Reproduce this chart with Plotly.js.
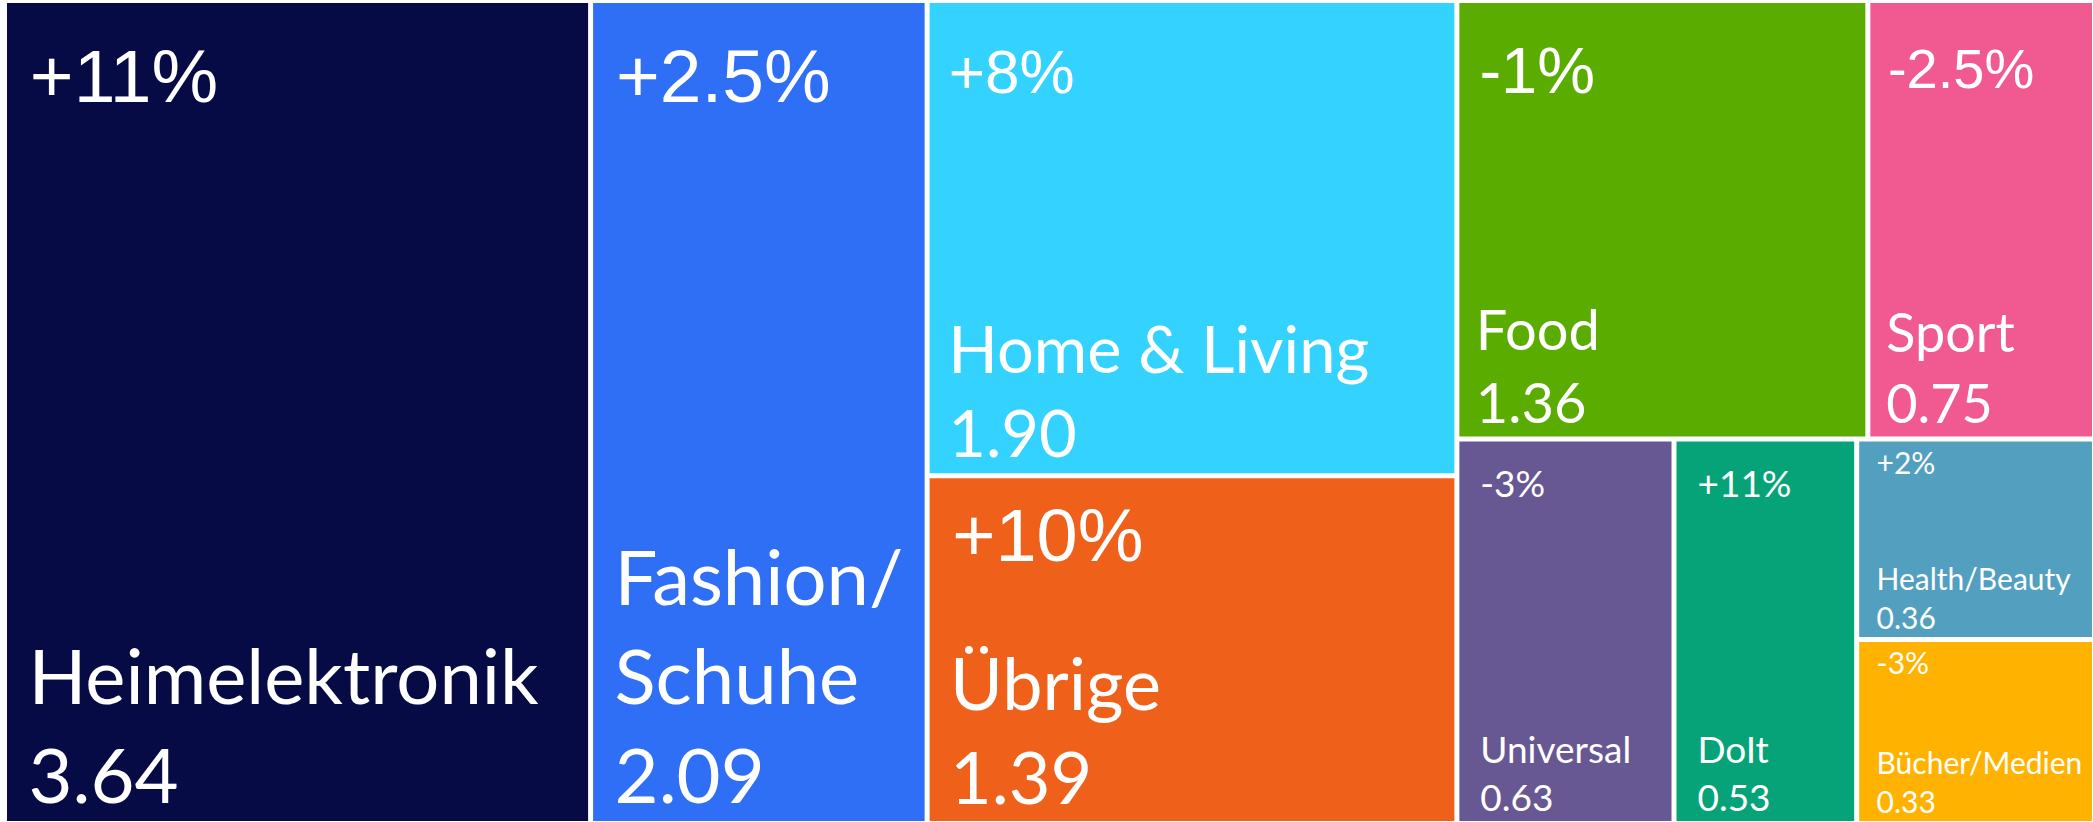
<!DOCTYPE html>
<html>
<head>
<meta charset="utf-8">
<script src="https://cdn.plot.ly/plotly-3.0.1.min.js"></script>
<style>
  html, body { margin: 0; padding: 0; background: #ffffff; }
</style>
</head>
<body>
<div id="myDiv_treemap"></div>
<script>
// ONLINE-UMSATZ NACH KATEGORIE

var labels_treemap = [
  "Heimelektronik",
  "Fashion/Schuhe",
  "Home & Living",
  "Übrige",
  "Food",
  "Sport",
  "Universal",
  "DoIt",
  "Health/Beauty",
  "Bücher/Medien",
];

var names_treemap = [
  "Heimelektronik",
  "Fashion/<br>Schuhe",
  "Home & Living",
  "Übrige",
  "Food",
  "Sport",
  "Universal",
  "DoIt",
  "Health/Beauty",
  "Bücher/Medien",
];

var values_treemap = [3.64, 2.09, 1.9, 1.39, 1.36, 0.75, 0.63, 0.53, 0.36, 0.33];

var change_treemap = [
  "+11%",
  "+2.5%",
  "+8%",
  "+10%",
  "-1%",
  "-2.5%",
  "-3%",
  "+11%",
  "+2%",
  "-3%",
];

var colors_treemap = [
  "#060b45",
  "#2e6ff5",
  "#33d2ff",
  "#ef601b",
  "#5aad00",
  "#f05a91",
  "#675893",
  "#05a377",
  "#529fbf",
  "#ffb300",
];

// text sizes per tile
var labelsize_treemap = [76, 76, 65, 72, 56, 54, 37, 37, 30, 30];
var changesize_treemap = [75, 75, 62, 74, 65, 56, 37, 37, 30, 30];
// empty first line that pushes the change text down a bit (0 = none)
var spacer_treemap = [44, 44, 40, 37, 40, 38, 24, 24, 0, 0];
// number of no-break spaces used as left indent
var indent_treemap = [1, 1, 1, 1, 1, 1, 2, 2, 2, 2];
var changefont_treemap = ["", "", "", "", "", "", "Lato", "Lato", "Lato", "Lato"];

// plotly needs one explicit root, drawn white and without text
var root = "Gesamt";
var ids_all = [root].concat(labels_treemap);
var parents_all = [""].concat(labels_treemap.map(function () {
  return root;
}));
var values_all = [0].concat(values_treemap);

function indent(i) {
  return new Array(indent_treemap[i] + 1).join("\u00a0");
}

var labeltemplate_treemap = labels_treemap.map(function (name, i) {
  return indent(i) + "%{text}<br>" + indent(i) + "%{value:.2f}";
});

var labeltext_treemap = names_treemap.map(function (name, i) {
  return name.split("<br>").join("<br>" + indent(i));
});

var changetemplate_treemap = changesize_treemap.map(function (size, i) {
  var style = "font-size:" + size + "px";
  if (changefont_treemap[i]) style += ";font-family:" + changefont_treemap[i];
  var pre = "";
  if (spacer_treemap[i] > 0) {
    pre = "<span style='font-size:" + spacer_treemap[i] + "px'>\u00a0</span><br>";
  }
  return pre + "<span style='" + style + "'>" + indent(i) + "%{text}</span>";
});

var trace1_treemap = {
  type: "treemap",
  labels: ids_all,
  parents: parents_all,
  values: values_all,
  text: [""].concat(labeltext_treemap),
  texttemplate: [""].concat(labeltemplate_treemap),
  textposition: "bottom left",
  hoverinfo: "none",
  tiling: { packing: "binary" },
  pathbar: { visible: false },
  textfont: {
    family: "Lato, sans-serif",
    color: "#ffffff",
    size: [20].concat(labelsize_treemap),
  },
  marker: {
    colors: ["#ffffff"].concat(colors_treemap),
    pad: { t: 0, l: 0, r: 0, b: 0 },
    line: {
      color: "#ffffff",
      width: 2,
    },
  },
};

var trace2_treemap = {
  type: "treemap",
  labels: ids_all,
  parents: parents_all,
  values: values_all,
  text: [""].concat(change_treemap),
  texttemplate: [""].concat(changetemplate_treemap),
  textposition: "top left",
  hoverinfo: "none",
  tiling: { packing: "binary" },
  pathbar: { visible: false },
  textfont: {
    family: "Liberation Sans, Arial, sans-serif",
    color: "#ffffff",
    size: [20].concat(changesize_treemap.map(function (size, i) {
      return spacer_treemap[i] > 0 ? spacer_treemap[i] : size;
    })),
  },
  marker: {
    colors: ids_all.map(function () {
      return "rgba(0,0,0,0)";
    }),
    pad: { t: 0, l: 0, r: 0, b: 0 },
    line: {
      color: "rgba(0,0,0,0)",
      width: 0,
    },
  },
};

var data_treemap = [trace1_treemap, trace2_treemap];

var layout_treemap = {
  width: 2093,
  height: 822,
  margin: { l: 6, r: 0, t: 2, b: 0 },
  paper_bgcolor: "#ffffff",
  showlegend: false,
};

var config_treemap = {
  displayModeBar: false,
  displaylogo: false,
};

Plotly.newPlot(
  "myDiv_treemap",
  data_treemap,
  layout_treemap,
  config_treemap
);
</script>
</body>
</html>
